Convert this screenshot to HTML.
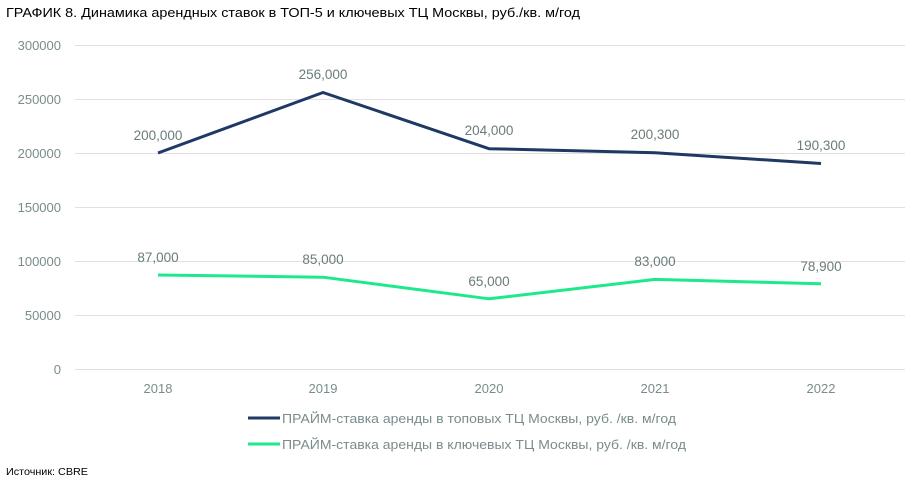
<!DOCTYPE html>
<html><head><meta charset="utf-8"><style>
body{margin:0;background:#fff;width:916px;height:486px;overflow:hidden}
svg text{font-family:"Liberation Sans","DejaVu Sans",sans-serif}
</style></head><body>
<svg width="916" height="486" viewBox="0 0 916 486" xmlns="http://www.w3.org/2000/svg">
<text x="6" y="17" font-size="13" fill="#000" textLength="574" lengthAdjust="spacingAndGlyphs">ГРАФИК 8. Динамика арендных ставок в ТОП-5 и ключевых ТЦ Москвы, руб./кв. м/год</text>
<g stroke="#e0e0e0" stroke-width="1">
<line x1="75" x2="905" y1="45.5" y2="45.5"/><line x1="75" x2="905" y1="99.5" y2="99.5"/>
<line x1="75" x2="905" y1="153.5" y2="153.5"/><line x1="75" x2="905" y1="207.5" y2="207.5"/>
<line x1="75" x2="905" y1="261.5" y2="261.5"/><line x1="75" x2="905" y1="315.5" y2="315.5"/>
<line x1="75" x2="905" y1="369.5" y2="369.5"/>
</g>
<g font-size="13" fill="#7a8c8c" text-anchor="end">
<text x="61" y="50">300000</text><text x="61" y="104">250000</text><text x="61" y="158">200000</text>
<text x="61" y="212">150000</text><text x="61" y="266">100000</text><text x="61" y="320">50000</text><text x="61" y="374">0</text>
</g>
<g font-size="13" fill="#7a8c8c" text-anchor="middle">
<text x="158" y="393">2018</text><text x="323" y="393">2019</text><text x="489" y="393">2020</text><text x="655" y="393">2021</text><text x="821" y="393">2022</text>
</g>
<polyline fill="none" stroke="#1f3864" stroke-width="3" stroke-linejoin="round" points="158,153 323,92.5 489,148.7 655,152.7 821,163.5"/>
<polyline fill="none" stroke="#1de98b" stroke-width="3" stroke-linejoin="round" points="158,275 323,277.2 489,298.8 655,279.4 821,283.8"/>
<g font-size="13.5" fill="#6b7b7b" text-anchor="middle">
<text x="158" y="140">200,000</text><text x="323" y="79">256,000</text><text x="489" y="135">204,000</text><text x="655" y="139">200,300</text><text x="821" y="150">190,300</text>
<text x="158" y="262">87,000</text><text x="323" y="264">85,000</text><text x="489" y="286">65,000</text><text x="655" y="266">83,000</text><text x="821" y="271">78,900</text>
</g>
<line x1="248" x2="280" y1="418" y2="418" stroke="#1f3864" stroke-width="3"/>
<line x1="248" x2="280" y1="444" y2="444" stroke="#1de98b" stroke-width="3"/>
<g font-size="13" fill="#7a8c8c">
<text x="282" y="423" textLength="394" lengthAdjust="spacingAndGlyphs">ПРАЙМ-ставка аренды в топовых ТЦ Москвы, руб. /кв. м/год</text>
<text x="282" y="449" textLength="404" lengthAdjust="spacingAndGlyphs">ПРАЙМ-ставка аренды в ключевых ТЦ Москвы, руб. /кв. м/год</text>
</g>
<text x="6" y="475" font-size="10.5" fill="#000" textLength="82" lengthAdjust="spacingAndGlyphs">Источник: CBRE</text>
</svg>
</body></html>
